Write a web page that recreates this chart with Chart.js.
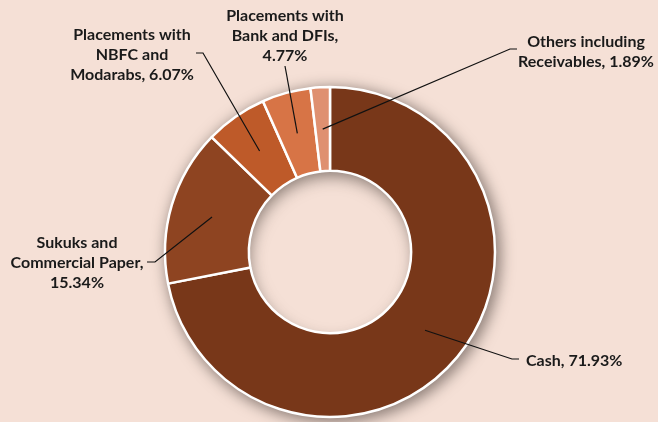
<!DOCTYPE html>
<html>
<head>
<meta charset="utf-8">
<script src="https://cdn.jsdelivr.net/npm/chart.js@4/dist/chart.umd.min.js"></script>
<style>
    html, body { margin: 0; padding: 0; background: #f5e0d6; }
    #wrap { width: 658px; height: 422px; position: relative; }
    #assetChart { position: relative; z-index: 1; }
    /* soft shadow under the ring and inside its hole */
    .ring-halo {
        position: absolute; z-index: 0;
        left: 165px; top: 87px; width: 330px; height: 330px;
        border-radius: 50%;
        box-shadow: 3px 3px 14px 3px rgba(60, 50, 45, 0.55);
    }
    .ring-hole {
        position: absolute; z-index: 0;
        left: 247px; top: 169px; width: 166px; height: 166px;
        border-radius: 50%;
        box-shadow: inset 2px 7px 16px rgba(60, 50, 45, 0.6);
    }
</style>
</head>
<body>
<div id="wrap">
    <div class="ring-halo"></div>
    <div class="ring-hole"></div>
    <canvas id="assetChart"></canvas>
</div>
<script>
// ==========================================================================
// ASSET ALLOCATION DATA
// ==========================================================================
const categories = [
    'Cash',
    'Sukuks and Commercial Paper',
    'Placements with NBFC and Modarabs',
    'Placements with Bank and DFIs',
    'Others including Receivables'
];
const shares = [71.93, 15.34, 6.07, 4.77, 1.89];
const sliceColors = ['#783719', '#8e4421', '#be5a29', '#d77446', '#df9070'];

// label text lines per slice (value appended to the last line)
const labelLines = [
    ['Cash, ' + shares[0].toFixed(2) + '%'],
    ['Sukuks and', 'Commercial Paper,', shares[1].toFixed(2) + '%'],
    ['Placements with', 'NBFC and', 'Modarabs, ' + shares[2].toFixed(2) + '%'],
    ['Placements with', 'Bank and DFIs,', shares[3].toFixed(2) + '%'],
    ['Others including', 'Receivables, ' + shares[4].toFixed(2) + '%']
];

// where each callout sits: text anchor, alignment, and the elbow of the leader line
const callouts = [
    { x: 526, y: 361, align: 'left',   elbow: [[519, 359], [512, 359]] },
    { x: 77,  y: 243, align: 'center', elbow: [[147, 262], [155, 262]] },
    { x: 132, y: 35,  align: 'center', elbow: [[196, 53], [203, 53]] },
    { x: 285, y: 16,  align: 'center', elbow: [[285, 66]] },
    { x: 586, y: 42,  align: 'center', elbow: [[517, 49], [510, 49]] }
];

const RING_OUTER = 165;
const RING_INNER = 83;

// leader lines + bold category labels
const calloutLabels = {
    id: 'calloutLabels',
    afterDatasetsDraw(chart) {
        const ctx = chart.ctx;
        const arcs = chart.getDatasetMeta(0).data;
        ctx.save();
        ctx.strokeStyle = '#111111';
        ctx.lineWidth = 1.2;
        arcs.forEach((arc, i) => {
            const p = arc.getCenterPoint(true);
            const c = callouts[i];
            ctx.beginPath();
            ctx.moveTo(c.elbow[0][0], c.elbow[0][1]);
            c.elbow.slice(1).forEach(pt => ctx.lineTo(pt[0], pt[1]));
            ctx.lineTo(p.x, p.y);
            ctx.stroke();
        });

        ctx.fillStyle = '#1a1a1a';
        ctx.font = 'bold 16px Lato';
        ctx.textBaseline = 'middle';
        labelLines.forEach((lines, i) => {
            const c = callouts[i];
            ctx.textAlign = c.align;
            lines.forEach((txt, k) => ctx.fillText(txt, c.x, c.y + k * 20));
        });
        ctx.restore();
    }
};

new Chart(document.getElementById('assetChart'), {
    type: 'doughnut',
    data: {
        labels: categories,
        datasets: [{
            data: shares,
            backgroundColor: sliceColors,
            borderColor: '#ffffff',
            borderWidth: 2.5
        }]
    },
    options: {
        responsive: true,
        maintainAspectRatio: false,
        animation: false,
        radius: RING_OUTER,
        cutout: RING_INNER,
        layout: { padding: { top: 82, bottom: 0, left: 2, right: 0 } },
        plugins: {
            legend: { display: false },
            tooltip: { enabled: false }
        }
    },
    plugins: [calloutLabels]
});
</script>
</body>
</html>
